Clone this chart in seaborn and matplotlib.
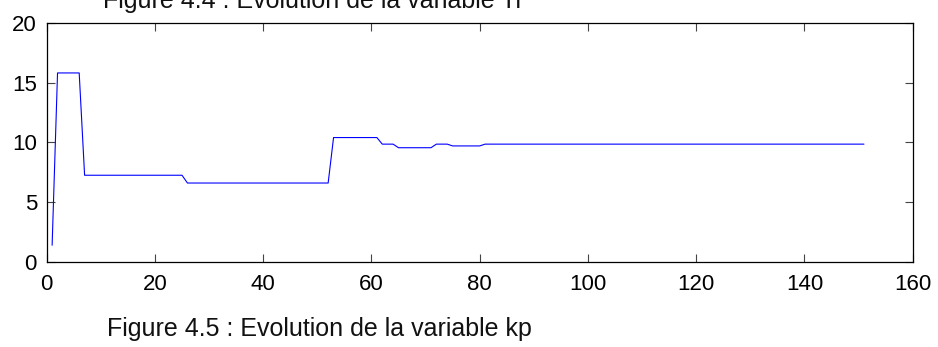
import numpy as np
import pandas as pd
import matplotlib
matplotlib.use("Agg")
import matplotlib.pyplot as plt
import seaborn as sns

# kp trajectory, stored as constant runs (level, number of iterations)
kp_levels = [1.4, 15.8, 7.25, 6.6, 10.4, 9.85, 9.55, 9.85, 9.7, 9.85]
kp_runs = [1, 5, 19, 27, 9, 3, 7, 3, 6, 71]

x_ticks = [0, 20, 40, 60, 80, 100, 120, 140, 160]
y_ticks = [0, 5, 10, 15, 20]

kp = np.repeat(kp_levels, kp_runs)
iterations = np.arange(1, len(kp) + 1)
df = pd.DataFrame({"iteration": iterations, "kp": kp})

sns.set_style("white")
plt.rcParams["font.family"] = ["Liberation Sans", "DejaVu Sans"]

fig = plt.figure(figsize=(9.38, 3.47), dpi=100)
ax = fig.add_axes([0.0498, 0.245, 0.9232, 0.6896])

sns.lineplot(data=df, x="iteration", y="kp", ax=ax, color="#0000ff",
             linewidth=0.8, estimator=None)

ax.set_xlim(0, 160)
ax.set_ylim(0, 20)
ax.set_xticks(x_ticks)
ax.set_yticks(y_ticks)
ax.set_xlabel("")
ax.set_ylabel("")
for s in ax.spines.values():
    s.set_visible(True)
    s.set_color("black")
    s.set_linewidth(0.9)
ax.tick_params(direction="in", length=5.5, width=0.8, color="#444444",
               labelsize=16, labelcolor="black", top=True, right=True,
               bottom=True, left=True)
ax.tick_params(axis="x", pad=9)
ax.tick_params(axis="y", pad=7)

fig.text(103 / 938, 1 - 8 / 347, "Figure 4.4 : Evolution de la variable Ti",
         fontsize=18, va="baseline", ha="left", color="#111111")
fig.text(107 / 938, 1 - 336 / 347, "Figure 4.5 : Evolution de la variable kp",
         fontsize=18, va="baseline", ha="left", color="#111111")

fig.savefig("out.png", dpi=100, facecolor="white")
